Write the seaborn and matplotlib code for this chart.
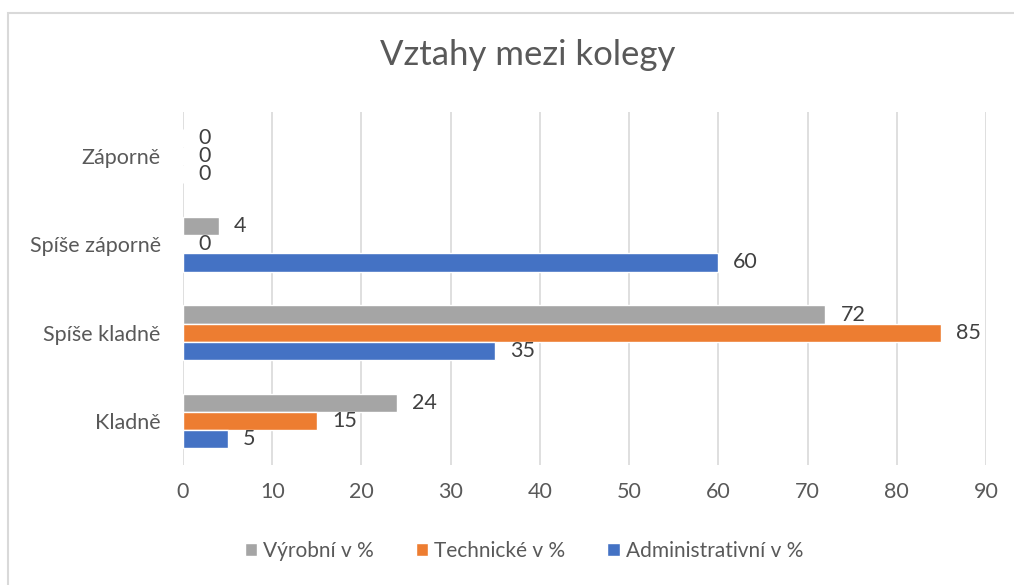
import matplotlib
matplotlib.use("Agg")
import matplotlib.pyplot as plt
import seaborn as sns
import pandas as pd
from matplotlib.patches import Rectangle

categories = ["Záporně", "Spíše záporně", "Spíše kladně", "Kladně"]
series = ["Výrobní v %", "Technické v %", "Administrativní v %"]
vyrobni = [0, 4, 72, 24]
technicke = [0, 0, 85, 15]
administrativni = [0, 60, 35, 5]
xticks = [0, 10, 20, 30, 40, 50, 60, 70, 80, 90]

colors = ["#A5A5A5", "#ED7D31", "#4472C4"]

rows = []
for s, vals in zip(series, [vyrobni, technicke, administrativni]):
    for c, v in zip(categories, vals):
        rows.append({"kat": c, "serie": s, "val": v})
df = pd.DataFrame(rows)

sns.set_theme(style="white")
plt.rcParams["font.family"] = ["Lato", "DejaVu Sans"]

fig = plt.figure(figsize=(10.14, 5.85), dpi=100)
W, H = 1014, 585
ax = fig.add_axes([183 / W, 1 - 465 / H, (986 - 183) / W, (465 - 112) / H])

sns.barplot(data=df, y="kat", x="val", hue="serie", order=categories,
            hue_order=series, palette=colors, orient="h", width=0.615,
            saturation=1, ax=ax, legend=True)

ax.set_xlim(0, 90)
ax.set_xticks(xticks)
ax.set_xticklabels([str(t) for t in xticks])
ax.grid(axis="x", color="#d9d9d9", linewidth=1.2)
ax.set_axisbelow(True)
for sp in ax.spines.values():
    sp.set_visible(False)
ax.set_xlabel("")
ax.set_ylabel("")
ax.tick_params(axis="both", length=0, labelsize=15.5, colors="#595959")
ax.tick_params(axis="x", pad=12)
ax.tick_params(axis="y", pad=16)

for cont in ax.containers:
    for bar in cont:
        w = bar.get_width()
        y = bar.get_y() + bar.get_height() / 2
        ax.annotate(f"{int(round(w))}", (w, y), xytext=(15, 0),
                    textcoords="offset pixels",
                    ha="left", va="center", fontsize=15.5, color="#404040")

leg = ax.get_legend()
handles, labels = ax.get_legend_handles_labels()
leg.remove()
fig.legend(handles, labels, loc="center", bbox_to_anchor=(524 / W, 1 - 551 / H),
           ncol=3, frameon=False, fontsize=15, handlelength=0.6, handleheight=0.6,
           handletextpad=0.3, columnspacing=2.0, labelcolor="#595959")

fig.text(528 / W, 1 - 55 / H, "Vztahy mezi kolegy", ha="center", va="center",
         fontsize=25, color="#595959")

fig.patches.append(Rectangle((8 / W, -0.1), 1.2, 1 - 13 / H + 0.1,
                             transform=fig.transFigure, fill=False,
                             edgecolor="#d9d9d9", linewidth=1.5))

fig.savefig("out.png", dpi=100)
